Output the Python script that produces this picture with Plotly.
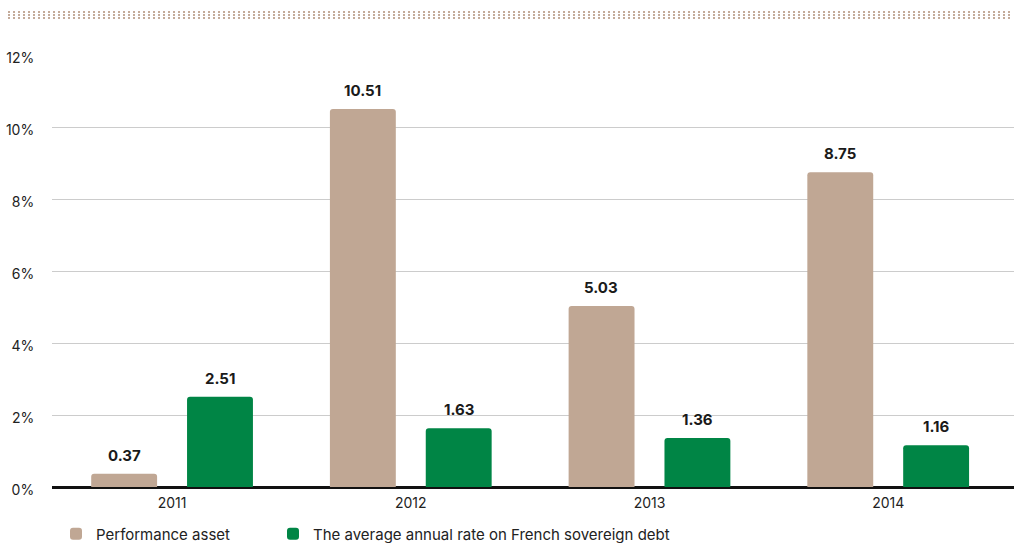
import plotly.graph_objects as go

years = ["2011", "2012", "2013", "2014"]
performance_asset = [0.37, 10.51, 5.03, 8.75]
french_debt_rate = [2.51, 1.63, 1.36, 1.16]
series_names = ["Performance asset", "The average annual rate on French sovereign debt"]
y_ticks = [0, 2, 4, 6, 8, 10, 12]

TAN = "#c0a794"
GREEN = "#008545"
FONT = "Inter"

W, H = 1016, 543
L, R, T, B = 52, 2, 55, 56
pw, ph = W - L - R, H - T - B

def px_x(p):
    return (p - L) / pw

def px_y(p):
    return (H - B - p) / ph

fig = go.Figure()
fig.add_trace(go.Bar(x=years, y=performance_asset, name=series_names[0], legend="legend",
                     showlegend=True, marker=dict(color=TAN, line=dict(width=0))))
fig.add_trace(go.Bar(x=years, y=french_debt_rate, name=series_names[1], legend="legend2",
                     showlegend=True, marker=dict(color=GREEN, line=dict(width=0))))

annotations = []
for vals, shift in ((performance_asset, -48), (french_debt_rate, 48)):
    for i, v in enumerate(vals):
        annotations.append(dict(x=i, y=v, xref="x", yref="y", text=f"<b>{v:.2f}</b>",
                                showarrow=False, xshift=shift, yanchor="bottom", yshift=7,
                                font=dict(family=FONT, size=15, color="#1a1a1a")))

shapes = []
for yy in (12, 15, 18):
    shapes.append(dict(type="line", xref="paper", yref="paper",
                       x0=px_x(8), x1=px_x(1012), y0=px_y(yy), y1=px_y(yy),
                       line=dict(color="#c4ab9a", width=2, dash="2px,3px")))

legend_common = dict(orientation="h", xanchor="left", yanchor="middle",
                     font=dict(family=FONT, size=15, color="#222222"),
                     bgcolor="rgba(0,0,0,0)", borderwidth=0, visible=True)

fig.update_layout(
    width=W, height=H,
    showlegend=True,
    margin=dict(l=L, r=R, t=T, b=B, pad=0, autoexpand=False),
    paper_bgcolor="white", plot_bgcolor="white",
    barmode="group", bargap=0.197, bargroupgap=0.3125, barcornerradius=3,
    font=dict(family=FONT, size=14, color="#222222"),
    xaxis=dict(type="category", range=[-0.503, 3.527], showgrid=False, zeroline=False,
               showline=False, ticks="outside", ticklen=3, tickcolor="rgba(0,0,0,0)",
               tickfont=dict(family=FONT, size=14, color="#222222")),
    yaxis=dict(range=[0, 12.01], tickmode="array", tickvals=y_ticks,
               ticktext=[f"{t}%" for t in y_ticks], showgrid=True,
               gridcolor="#cccccc", gridwidth=1, zeroline=True, zerolinecolor="#111111",
               zerolinewidth=2.5, showline=False, ticks="outside", ticklen=14,
               ticklabelshift=3,
               tickcolor="rgba(0,0,0,0)", tickfont=dict(family=FONT, size=14, color="#222222")),
    legend=dict(x=px_x(56), y=px_y(534), **legend_common),
    legend2=dict(x=px_x(273), y=px_y(534), **legend_common),
    annotations=annotations,
    shapes=shapes,
)

fig.write_html("out.html", config={"displayModeBar": False},
               post_script="document.body.style.margin='0';document.body.style.padding='0';")
